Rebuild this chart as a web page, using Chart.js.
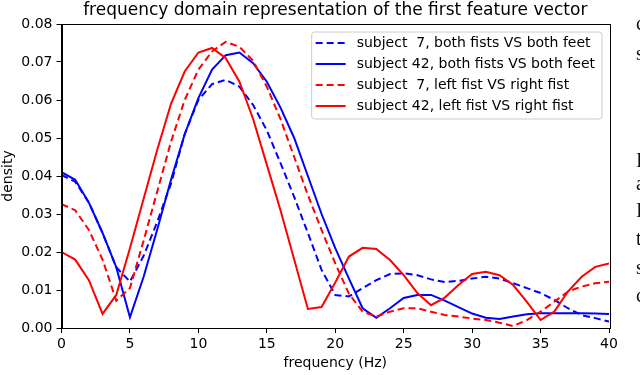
<!DOCTYPE html>
<html>
<head>
<meta charset="utf-8">
<script src="https://cdn.jsdelivr.net/npm/chart.js@4/dist/chart.umd.min.js"></script>
<style>
  html, body { margin: 0; padding: 0; background: #fff; }
  #wrap { position: relative; width: 640px; height: 375px; overflow: hidden; }
  #c { position: absolute; left: 0; top: 0; }
  .frag { position: absolute; left: 636px; font-family: "Liberation Serif", serif; font-size: 20px; color: #111; line-height: 20px; }
</style>
</head>
<body>
<div id="wrap">
  <canvas id="c" width="640" height="375"></canvas>
  <span class="frag" style="top:13px">c</span>
  <span class="frag" style="top:43px">s</span>
  <span class="frag" style="top:150px">I</span>
  <span class="frag" style="top:173px">a</span>
  <span class="frag" style="top:200px">I</span>
  <span class="frag" style="top:228px">t</span>
  <span class="frag" style="top:257px">s</span>
  <span class="frag" style="top:285px">c</span>
</div>
<script>
// ---- data ----
const chartTitle = 'frequency domain representation of the first feature vector';
const xTitle = 'frequency (Hz)';
const yTitle = 'density';
const freqs = [0,1,2,3,4,5,6,7,8,9,10,11,12,13,14,15,16,17,18,19,20,21,22,23,24,25,26,27,28,29,30,31,32,33,34,35,36,37,38,39,40];
const xTicks = [0,5,10,15,20,25,30,35,40];
const yTicks = [0,0.01,0.02,0.03,0.04,0.05,0.06,0.07,0.08];
const seriesLabels = [
  'subject  7, both fists VS both feet',
  'subject 42, both fists VS both feet',
  'subject  7, left fist VS right fist',
  'subject 42, left fist VS right fist'
];
const s7Feet = [0.0403,0.0385,0.0330,0.0250,0.0160,0.0122,0.0190,0.0280,0.0380,0.0510,0.0600,0.0642,0.0653,0.0635,0.0587,0.0520,0.0434,0.0345,0.0250,0.0153,0.0087,0.0083,0.0105,0.0126,0.0142,0.0144,0.0139,0.0128,0.0121,0.0124,0.0130,0.0135,0.0130,0.0118,0.0105,0.0092,0.0074,0.0052,0.0034,0.0026,0.0017];
const s42Feet = [0.0410,0.0390,0.0330,0.0250,0.0160,0.0028,0.0135,0.0260,0.0390,0.0510,0.0605,0.0680,0.0718,0.0725,0.0697,0.0648,0.0580,0.0500,0.0400,0.0300,0.0210,0.0130,0.0052,0.0027,0.0052,0.0079,0.0087,0.0087,0.0072,0.0055,0.0038,0.0027,0.0024,0.0030,0.0036,0.0039,0.0039,0.0039,0.0039,0.0038,0.0037];
const s7Fist = [0.0326,0.0310,0.0258,0.0180,0.0072,0.0105,0.0230,0.0360,0.0490,0.0600,0.0680,0.0728,0.0753,0.0740,0.0703,0.0635,0.0550,0.0450,0.0350,0.0258,0.0170,0.0090,0.0043,0.0030,0.0043,0.0052,0.0052,0.0043,0.0034,0.0030,0.0025,0.0021,0.0014,0.0005,0.0021,0.0043,0.0069,0.0096,0.0109,0.0118,0.0122];
const s42Fist = [0.0200,0.0180,0.0126,0.0037,0.0087,0.0210,0.0340,0.0470,0.0590,0.0675,0.0725,0.0737,0.0710,0.0648,0.0550,0.0430,0.0310,0.0180,0.0050,0.0055,0.0120,0.0188,0.0211,0.0208,0.0179,0.0139,0.0092,0.0060,0.0080,0.0113,0.0142,0.0148,0.0139,0.0113,0.0069,0.0021,0.0043,0.0096,0.0135,0.0161,0.0170];

const seriesValues = [s7Feet, s42Feet, s7Fist, s42Fist];
const seriesColors = ['#0000ff', '#0000ff', '#ff0000', '#ff0000'];
const seriesDashed = [true, false, true, false];

const FONT = 'DejaVu Sans';
Chart.defaults.font.family = FONT;
Chart.defaults.color = '#000';

const datasets = seriesValues.map((vals, i) => ({
  label: seriesLabels[i],
  data: freqs.map((f, j) => ({ x: f, y: vals[j] })),
  borderColor: seriesColors[i],
  backgroundColor: seriesColors[i],
  borderWidth: 2,
  borderDash: seriesDashed[i] ? [7, 4] : [],
  pointRadius: 0,
  tension: 0,
  fill: false,
  order: 4 - i
}));

const extras = {
  id: 'extras',
  afterDatasetsDraw(chart) {
    const ctx = chart.ctx;
    const ca = chart.chartArea;
    ctx.save();
    // frame
    ctx.strokeStyle = '#000';
    ctx.lineWidth = 1;
    ctx.setLineDash([]);
    ctx.strokeRect(Math.round(ca.left) + 0.5, Math.round(ca.top) + 0.5, Math.round(ca.right - ca.left), Math.round(ca.bottom - ca.top));
    // legend
    ctx.font = '14px "' + FONT + '"';
    let tw = 0;
    chart.data.datasets.forEach(d => { tw = Math.max(tw, ctx.measureText(d.label).width); });
    const w = 4 + 30 + 11 + tw + 7;
    const h = 87;
    const bx = ca.right - 7 - w;
    const by = ca.top + 8;
    const r = 3;
    ctx.beginPath();
    ctx.moveTo(bx + r, by);
    ctx.lineTo(bx + w - r, by);
    ctx.arcTo(bx + w, by, bx + w, by + r, r);
    ctx.lineTo(bx + w, by + h - r);
    ctx.arcTo(bx + w, by + h, bx + w - r, by + h, r);
    ctx.lineTo(bx + r, by + h);
    ctx.arcTo(bx, by + h, bx, by + h - r, r);
    ctx.lineTo(bx, by + r);
    ctx.arcTo(bx, by, bx + r, by, r);
    ctx.closePath();
    ctx.fillStyle = 'rgba(255,255,255,0.8)';
    ctx.fill();
    ctx.strokeStyle = '#cccccc';
    ctx.stroke();
    chart.data.datasets.forEach((d, i) => {
      const cy = by + 11 + i * 21;
      ctx.beginPath();
      ctx.strokeStyle = d.borderColor;
      ctx.lineWidth = 2;
      ctx.setLineDash(d.borderDash || []);
      ctx.moveTo(bx + 4, cy);
      ctx.lineTo(bx + 34, cy);
      ctx.stroke();
      ctx.setLineDash([]);
      ctx.fillStyle = '#000';
      ctx.textBaseline = 'middle';
      ctx.textAlign = 'left';
      ctx.fillText(d.label, bx + 45, cy);
    });
    // title
    ctx.font = '17px "' + FONT + '"';
    ctx.fillStyle = '#000';
    ctx.textAlign = 'center';
    ctx.textBaseline = 'middle';
    ctx.fillText(chartTitle, (ca.left + ca.right) / 2, 11);
    ctx.restore();
  }
};

new Chart(document.getElementById('c'), {
  type: 'line',
  data: { datasets },
  plugins: [extras],
  options: {
    responsive: false,
    animation: false,
    events: [],
    layout: { padding: { top: 24, right: 31, left: 0, bottom: 0 } },
    plugins: { legend: { display: false }, tooltip: { enabled: false }, title: { display: false } },
    scales: {
      x: {
        type: 'linear',
        min: 0, max: 40,
        afterFit(s) { s.height = 47; },
        afterBuildTicks(s) { s.ticks = xTicks.map(v => ({ value: v })); },
        ticks: { font: { size: 14 }, padding: 3, maxRotation: 0, autoSkip: false, callback: v => String(v) },
        grid: { drawOnChartArea: false, drawTicks: true, tickLength: 5, color: '#000', lineWidth: 1 },
        border: { display: true, color: '#000', width: 1 },
        title: { display: true, text: xTitle, font: { size: 14 }, padding: { top: 0, bottom: 3 } }
      },
      y: {
        type: 'linear',
        min: 0, max: 0.08,
        afterFit(s) { s.width = 61.5; },
        afterBuildTicks(s) { s.ticks = yTicks.map(v => ({ value: v })); },
        ticks: { font: { size: 14 }, padding: 4, autoSkip: false, callback: v => v.toFixed(2) },
        grid: { drawOnChartArea: false, drawTicks: true, tickLength: 5, color: '#000', lineWidth: 1 },
        border: { display: true, color: '#000', width: 1 },
        title: { display: true, text: yTitle, font: { size: 14 }, padding: { top: 0, bottom: 0 } }
      }
    }
  }
});
</script>
</body>
</html>
